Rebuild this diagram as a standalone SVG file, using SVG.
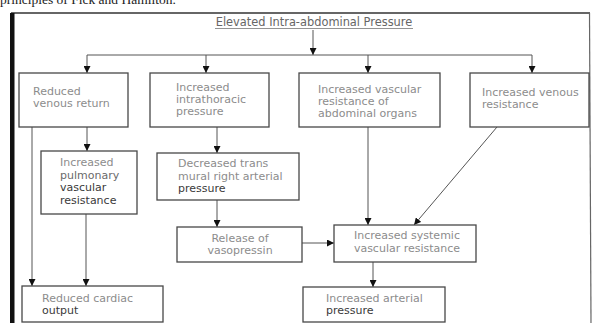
<svg xmlns="http://www.w3.org/2000/svg" width="594" height="323" viewBox="0 0 594 323">
<defs>
<marker id="ah" viewBox="0 0 8 8" refX="8" refY="4" markerWidth="7" markerHeight="7" markerUnits="userSpaceOnUse" orient="auto">
<path d="M0,0 L8,4 L0,8 Z" fill="#111"/>
</marker>
</defs>
<style>
.box{fill:#fff;stroke:#484848;stroke-width:1.3}
.t{font-family:"DejaVu Sans",sans-serif;font-size:11px;fill:#8c8c8c}
.d{fill:#3a3a3a}
.c{fill:none;stroke:#555;stroke-width:1}
.a{marker-end:url(#ah)}
</style>
<rect width="594" height="323" fill="#fff"/>
<text x="0" y="3.5" font-family="Liberation Serif, serif" font-size="13.5" fill="#222">principles of Fick and Hamilton.</text>
<g id="frame">
<line x1="11" y1="13" x2="590" y2="13" stroke="#333" stroke-width="1.6"/>
<rect x="10" y="13" width="4.5" height="310" fill="#111"/>
<line x1="589.5" y1="13" x2="591" y2="323" stroke="#666" stroke-width="1.2"/>
</g>
<g id="heading">
<text x="314" y="26" text-anchor="middle" class="t" style="font-size:11.4px;fill:#666">Elevated Intra-abdominal Pressure</text>
<line x1="215" y1="28.5" x2="413" y2="28.5" stroke="#777" stroke-width="0.8"/>
</g>
<g id="connectors">
<line class="c a" x1="313" y1="30" x2="313" y2="55"/>
<line class="c" x1="87" y1="55" x2="532" y2="55"/>
<line class="c a" x1="87" y1="55" x2="87" y2="73"/>
<line class="c a" x1="206" y1="55" x2="206" y2="73"/>
<line class="c a" x1="368" y1="55" x2="368" y2="73"/>
<line class="c a" x1="532" y1="55" x2="532" y2="73"/>
<line class="c a" x1="87" y1="127" x2="87" y2="151"/>
<line class="c a" x1="32" y1="127" x2="32" y2="286"/>
<line class="c a" x1="86" y1="214" x2="86" y2="286"/>
<line class="c a" x1="217" y1="127" x2="217" y2="153"/>
<line class="c a" x1="217" y1="200" x2="217" y2="227"/>
<line class="c a" x1="302" y1="243" x2="334" y2="243"/>
<line class="c a" x1="368" y1="127" x2="368" y2="225"/>
<line class="c a" x1="497" y1="127" x2="414" y2="225"/>
<line class="c a" x1="373" y1="262" x2="373" y2="287"/>
</g>
<g id="n1">
<rect class="box" x="19" y="73" width="109" height="54"/>
<text class="t" x="33" y="95">Reduced</text>
<text class="t" x="33" y="107">venous return</text>
</g>
<g id="n2">
<rect class="box" x="150" y="73" width="119" height="54"/>
<text class="t" x="176" y="91">Increased</text>
<text class="t" x="176" y="103">intrathoracic</text>
<text class="t" x="176" y="115">pressure</text>
</g>
<g id="n3">
<rect class="box" x="299" y="73" width="141" height="54"/>
<text class="t" x="318" y="93">Increased vascular</text>
<text class="t" x="318" y="105">resistance of</text>
<text class="t" x="318" y="117">abdominal organs</text>
</g>
<g id="n4">
<rect class="box" x="470" y="73" width="119" height="54"/>
<text class="t" x="482" y="96">Increased venous</text>
<text class="t" x="482" y="108">resistance</text>
</g>
<g id="n5">
<rect class="box" x="41" y="151" width="96" height="63"/>
<text class="t" x="60" y="166">Increased</text>
<text class="t" x="60" y="178.5" style="fill:#6a6a6a">pulmonary</text>
<text class="t d" x="60" y="191">vascular</text>
<text class="t d" x="60" y="203.5">resistance</text>
</g>
<g id="n6">
<rect class="box" x="157" y="153" width="142" height="47"/>
<text class="t" x="178" y="167">Decreased trans</text>
<text class="t" x="178" y="179.5">mural right arterial</text>
<text class="t d" x="178" y="192">pressure</text>
</g>
<g id="n7">
<rect class="box" x="177" y="227" width="125" height="35"/>
<text class="t" x="240" y="242" text-anchor="middle">Release of</text>
<text class="t" x="240" y="254" text-anchor="middle">vasopressin</text>
</g>
<g id="n8">
<rect class="box" x="334" y="225" width="142" height="37"/>
<text class="t" x="407" y="239" text-anchor="middle">Increased systemic</text>
<text class="t" x="407" y="252" text-anchor="middle">vascular resistance</text>
</g>
<g id="n9">
<rect class="box" x="22" y="286" width="141" height="36"/>
<text class="t" x="42" y="302">Reduced cardiac</text>
<text class="t d" x="42" y="314">output</text>
</g>
<g id="n10">
<rect class="box" x="303" y="287" width="142" height="35"/>
<text class="t" x="326" y="302">Increased arterial</text>
<text class="t d" x="326" y="314">pressure</text>
</g>
</svg>
